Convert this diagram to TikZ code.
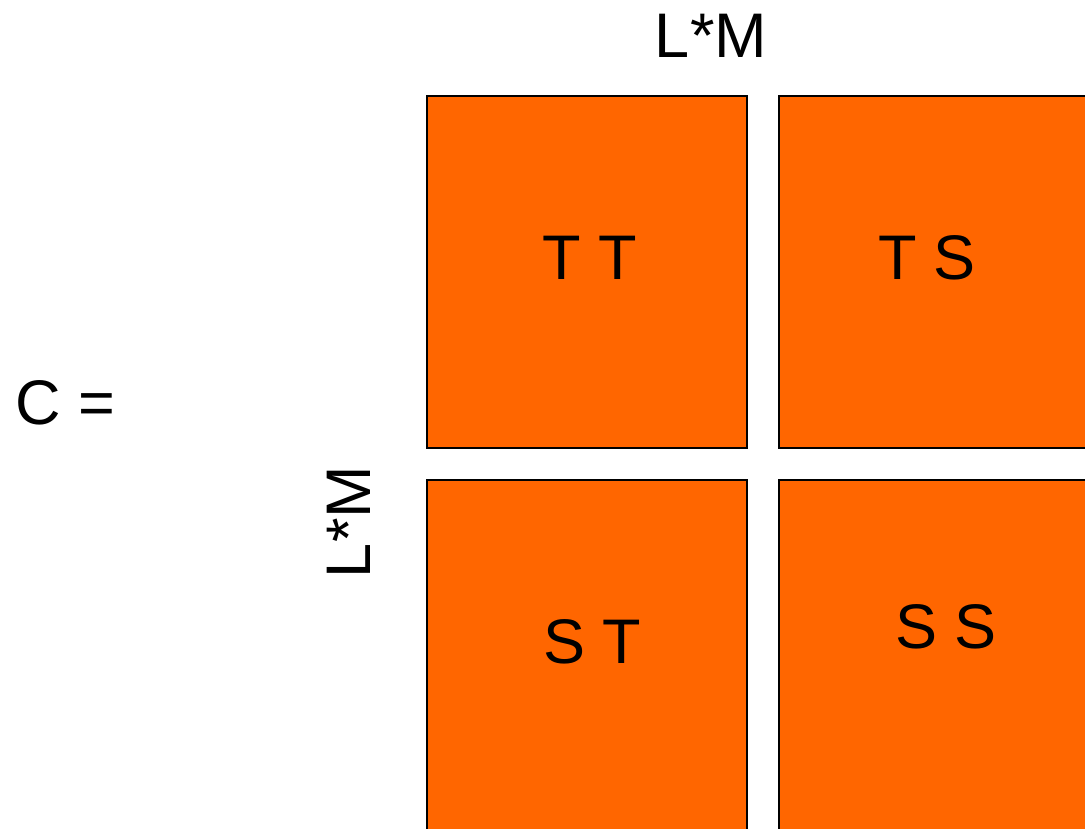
\documentclass[tikz,border=0pt]{standalone}
\usepackage{fontspec}
\setmainfont{Liberation Sans}
\definecolor{boxorange}{HTML}{FF6600}
\begin{document}
\begin{tikzpicture}[x=1pt,y=-1pt,
  blk/.style={draw=black,fill=boxorange,line width=2.5pt,minimum width=320pt,minimum height=352pt,inner sep=0pt,outer sep=0pt},
  lbl/.style={font=\fontsize{63}{70}\selectfont,inner sep=0pt,anchor=center}]
\useasboundingbox (0,0) rectangle (1085,828);
\clip (0,0) rectangle (1085,828);
\node[blk] (tt) at (587,272) {};
\node[blk] (ts) at (939,272) {};
\node[blk] (st) at (587,656) {};
\node[blk] (ss) at (939,656) {};
\node[lbl] (ttl) at (590,258) {T T};
\node[lbl] (tsl) at (927,258) {T S};
\node[lbl] (stl) at (592,642) {S T};
\node[lbl] (ssl) at (946,627) {S S};
\node[lbl] (top) at (711,36) {L*M};
\node[lbl,rotate=90] (side) at (349,522) {L*M};
\node[lbl] (c) at (65,403) {C =};
\end{tikzpicture}
\end{document}
